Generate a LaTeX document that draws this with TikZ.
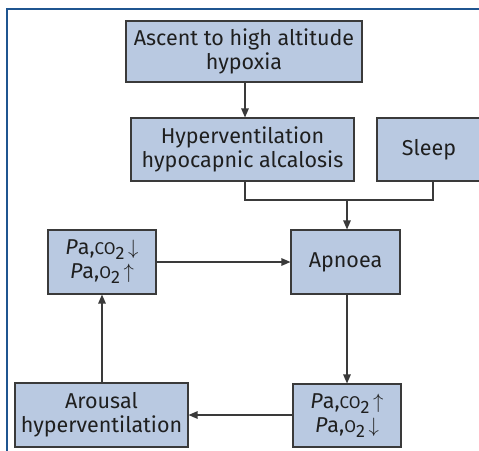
\documentclass[tikz,border=0pt]{standalone}
\usepackage{fontspec}
\setmainfont{Fira Sans}
\usetikzlibrary{arrows.meta}
\definecolor{boxblue}{HTML}{B9C9E1}
\definecolor{boxline}{HTML}{3A3A3A}
\definecolor{framecol}{HTML}{1F5590}
\newcommand{\pacomp}[2]{\textit{P}a,{\fontsize{17}{20}\selectfont #1}\raisebox{-0.45ex}{\fontsize{18}{20}\selectfont 2}\,$#2$}
\tikzset{
  x=1pt, y=-1pt,
  boxnode/.style={draw=boxline, fill=boxblue, line width=1.1pt, align=center, inner sep=0pt,
    font=\fontsize{21.5}{24}\selectfont, text=black!88},
  conn/.style={draw=boxline, line width=1.2pt},
  arr/.style={conn, -{Triangle[length=9pt,width=7.5pt]}},
}
\begin{document}
\begin{tikzpicture}
\useasboundingbox (0,0) rectangle (479,450);
\clip (0,0) rectangle (479,450);
\fill[white] (0,0) rectangle (479,450);
% outer frame
\draw[framecol, line width=1.6pt] (7,452) -- (7,9) -- (482,9);
% boxes
\node[boxnode, minimum width=236pt, minimum height=61pt] (ascent) at (244,51.5) {Ascent to high altitude\\hypoxia};
\node[boxnode, minimum width=223pt, minimum height=63pt] (hyper) at (242.5,149.5) {Hyperventilation\\hypocapnic alcalosis};
\node[boxnode, minimum width=104pt, minimum height=63pt, text width=104pt] (sleep) at (429,149.5) {Sleep};
\node[boxnode, minimum width=109pt, minimum height=64pt] (apnoea) at (345.5,262) {Apnoea};
\node[boxnode, minimum width=108pt, minimum height=64pt] (paleft) at (102,262) {\pacomp{CO}{\downarrow}\\\pacomp{O}{\uparrow}};
\node[boxnode, minimum width=108pt, minimum height=63pt] (paright) at (347,415.5) {\pacomp{CO}{\uparrow}\\\pacomp{O}{\downarrow}};
\node[boxnode, minimum width=173pt, minimum height=64pt] (arousal) at (101.5,415) {Arousal\\hyperventilation};
% connectors
\coordinate (ja) at (245,100);
\coordinate (jl) at (245,200);
\coordinate (jr) at (433,200);
\coordinate (jm) at (347,200);
\draw[arr] (ascent.south -| ja) -- (hyper.north -| ja);
\draw[conn] (hyper.south -| jl) -- (jl) -- (jr) -- (sleep.south -| jr);
\draw[arr] (jm) -- (apnoea.north -| jm);
\draw[arr] (paleft.east) -- (apnoea.west |- paleft.east);
\draw[arr] (apnoea.south -| jm) -- (paright.north -| jm);
\draw[arr] (paright.west |- arousal.east) -- (arousal.east);
\draw[arr] (arousal.north -| paleft) -- (paleft.south);
\end{tikzpicture}
\end{document}
